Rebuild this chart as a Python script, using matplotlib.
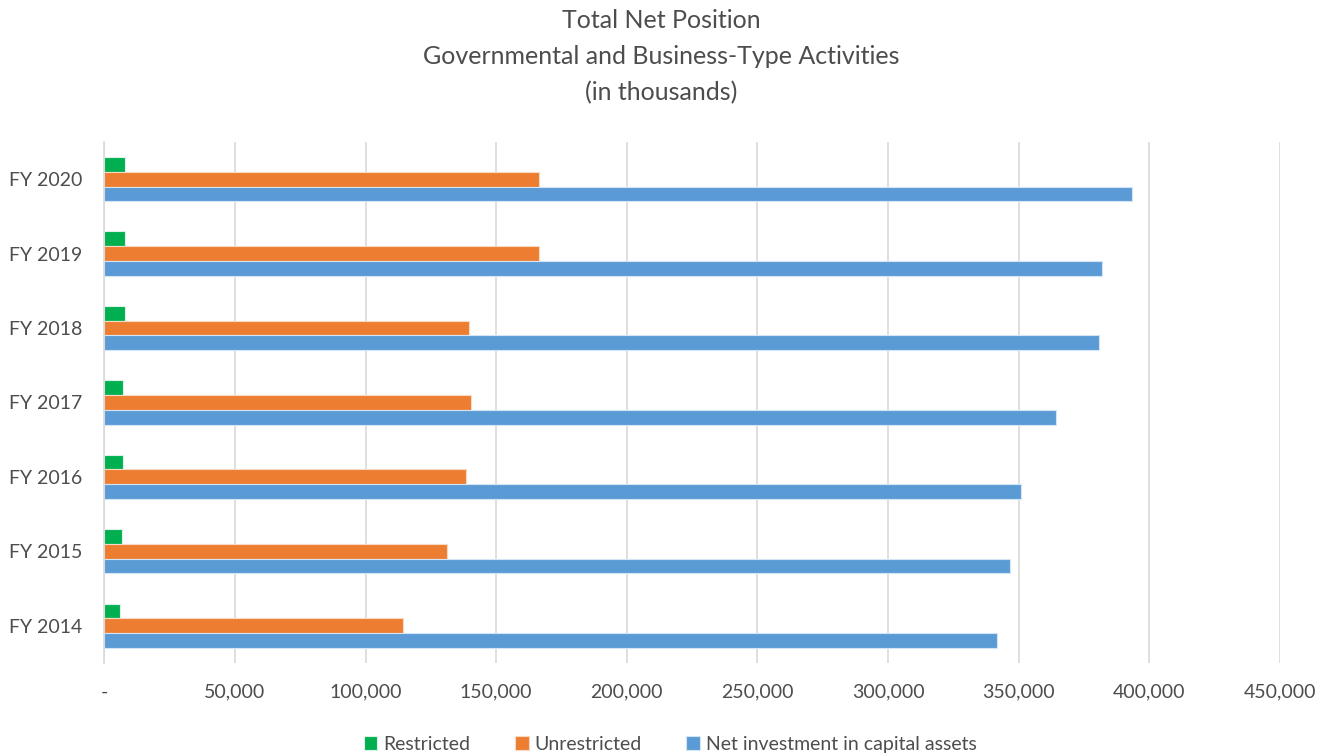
import numpy as np
import matplotlib.pyplot as plt
from matplotlib.ticker import FuncFormatter

# values in thousands
years = ['FY 2014', 'FY 2015', 'FY 2016', 'FY 2017', 'FY 2018', 'FY 2019', 'FY 2020']
restricted = [5900, 6700, 7200, 7200, 8000, 8000, 8000]
unrestricted = [114400, 131200, 138400, 140500, 139600, 166400, 166400]
net_invest = [341900, 346900, 351100, 364500, 380800, 382100, 393400]

plt.rcParams['font.family'] = ['Lato', 'DejaVu Sans']

fig = plt.figure(figsize=(13.22, 7.55), dpi=100)
ax = fig.add_axes([0.079, 0.122, 0.889, 0.690])

y = np.arange(len(years))
h = 0.198
ax.barh(y + h, restricted, height=h, color='#00B050', edgecolor='#dff0e4', linewidth=0.8, label='Restricted')
ax.barh(y, unrestricted, height=h, color='#ED7D31', edgecolor='#f8d9c4', linewidth=0.8, label='Unrestricted')
ax.barh(y - h, net_invest, height=h, color='#5B9BD5', edgecolor='#d3e4f4', linewidth=0.8,
        label='Net investment in capital assets')

ax.set_xlim(0, 450000)
ax.set_ylim(-0.5, len(years) - 0.5)
ax.set_xticks(np.arange(0, 450001, 50000))
ax.xaxis.set_major_formatter(FuncFormatter(lambda v, p: '-' if v == 0 else '{:,.0f}'.format(v)))
ax.set_yticks(y)
ax.set_yticklabels(years)
ax.grid(axis='x', color='#d9d9d9', linewidth=1.2)
ax.set_axisbelow(True)
for s in ['top', 'right', 'bottom']:
    ax.spines[s].set_visible(False)
ax.spines['left'].set_color('#d9d9d9')
ax.spines['left'].set_linewidth(1.2)
ax.tick_params(length=0, labelsize=14, colors='#4d4d4d')
ax.tick_params(axis='x', pad=15)
ax.tick_params(axis='y', pad=16)

fig.suptitle('Total Net Position\nGovernmental and Business-Type Activities\n(in thousands)',
             y=0.988, fontsize=18, color='#4d4d4d', linespacing=1.68)

fig.legend(loc='lower center', ncol=3, frameon=False, fontsize=14, labelcolor='#4d4d4d',
           bbox_to_anchor=(0.507, -0.02), handlelength=0.7, handleheight=0.7,
           handletextpad=0.3, columnspacing=2.3)

fig.savefig('out.png', dpi=100)
